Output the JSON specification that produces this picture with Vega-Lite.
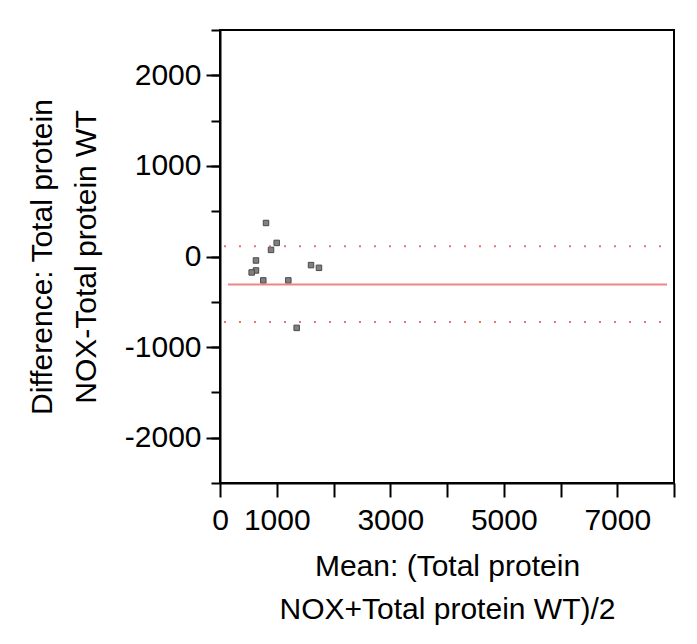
{
  "$schema": "https://vega.github.io/schema/vega-lite/v6.json",
  "width": 454,
  "height": 453,
  "padding": {"left": 27, "top": 15, "right": 5, "bottom": 5},
  "background": "white",
  "config": {
    "view": {"stroke": "black", "strokeWidth": 2},
    "axis": {
      "labelFont": "Liberation Sans",
      "titleFont": "Liberation Sans",
      "labelFontSize": 30,
      "titleFontSize": 30,
      "titleFontWeight": "normal",
      "labelColor": "black",
      "titleColor": "black",
      "domainColor": "black",
      "tickColor": "black",
      "domainWidth": 2,
      "tickWidth": 2,
      "grid": false
    }
  },
  "datasets": {
    "points": [
      {"mean": 811, "diff": 370},
      {"mean": 999, "diff": 150},
      {"mean": 899, "diff": 73},
      {"mean": 634, "diff": -44},
      {"mean": 634, "diff": -154},
      {"mean": 558, "diff": -176},
      {"mean": 763, "diff": -264},
      {"mean": 1204, "diff": -264},
      {"mean": 1604, "diff": -95},
      {"mean": 1744, "diff": -125},
      {"mean": 1351, "diff": -788}
    ],
    "meanline": [
      {"x1": 141, "x2": 7877, "y": -308}
    ],
    "limits": [
      {"x1": 70, "x2": 7870, "y": 113},
      {"x1": 70, "x2": 7870, "y": -722}
    ]
  },
  "resolve": {"axis": {"y": "independent"}},
  "layer": [
    {
      "data": {"name": "points"},
      "mark": {"type": "square", "size": 30, "fill": "#808080", "stroke": "#4a4a4a", "strokeWidth": 1, "opacity": 1},
      "encoding": {
        "x": {
          "field": "mean",
          "type": "quantitative",
          "scale": {"domain": [0, 8000], "nice": false},
          "axis": {
            "values": [0, 1000, 2000, 3000, 4000, 5000, 6000, 7000, 8000],
            "format": "d",
            "tickSize": 14,
            "labelPadding": 8,
            "labelFlush": false,
            "labelOverlap": false,
            "labelExpr": "datum.value == 0 || datum.value == 1000 || datum.value == 3000 || datum.value == 5000 || datum.value == 7000 ? datum.label : ''",
            "title": ["Mean: (Total protein", "NOX+Total protein WT)/2"],
            "titleLineHeight": 43,
            "titlePadding": 16
          }
        },
        "y": {
          "field": "diff",
          "type": "quantitative",
          "scale": {"domain": [-2500, 2500], "nice": false},
          "axis": {
            "orient": "left",
            "values": [-2500, -2000, -1500, -1000, -500, 0, 500, 1000, 1500, 2000, 2500],
            "format": "d",
            "tickSize": 9,
            "labelPadding": 10,
            "labelFlush": false,
            "labelOverlap": false,
            "labelExpr": "datum.value % 1000 == 0 ? '' + datum.value : ''",
            "title": ["Difference: Total protein", "NOX-Total protein WT"],
            "titleLineHeight": 44,
            "titlePadding": 23
          }
        }
      }
    },
    {
      "data": {"name": "meanline"},
      "mark": {"type": "rule", "color": "#ee8585", "strokeWidth": 2},
      "encoding": {
        "x": {"field": "x1", "type": "quantitative"},
        "x2": {"field": "x2"},
        "y": {
          "field": "y",
          "type": "quantitative",
          "axis": {
            "orient": "left",
            "values": [-2000, -1000, 0, 1000, 2000],
            "tickSize": 14,
            "labels": false,
            "domain": false,
            "title": null
          }
        }
      }
    },
    {
      "data": {"name": "limits"},
      "mark": {"type": "rule", "color": "#e07575", "strokeWidth": 2, "strokeDash": [2, 13]},
      "encoding": {
        "x": {"field": "x1", "type": "quantitative"},
        "x2": {"field": "x2"},
        "y": {"field": "y", "type": "quantitative", "axis": null}
      }
    }
  ]
}
